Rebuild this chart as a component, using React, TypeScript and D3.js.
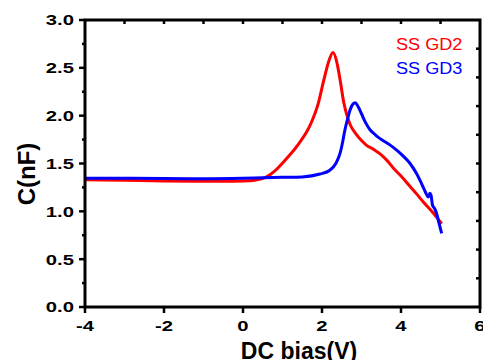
import React, { useEffect, useRef } from 'react';
import * as d3 from 'd3';

// SS GD2 (red)
const biasGD2 = [-4.0, -3.0, -2.0, -1.0, -0.5, 0.0, 0.3, 0.6, 0.8, 1.1, 1.4, 1.7, 1.9, 2.05, 2.18, 2.28, 2.38, 2.46, 2.55, 2.62, 2.72, 2.84, 3.0, 3.13, 3.3, 3.47, 3.65, 3.81, 4.0, 4.23, 4.4, 4.56, 4.8, 5.03];
const capGD2 = [1.33, 1.325, 1.318, 1.315, 1.315, 1.318, 1.325, 1.36, 1.42, 1.55, 1.70, 1.90, 2.12, 2.38, 2.58, 2.66, 2.55, 2.37, 2.14, 2.02, 1.90, 1.82, 1.74, 1.69, 1.65, 1.60, 1.53, 1.45, 1.37, 1.26, 1.18, 1.10, 0.99, 0.87];

// SS GD3 (blue)
const biasGD3 = [-4.0, -3.0, -2.0, -1.0, 0.0, 0.5, 1.0, 1.5, 1.95, 2.2, 2.35, 2.46, 2.52, 2.58, 2.65, 2.71, 2.78, 2.84, 2.92, 3.0, 3.1, 3.22, 3.35, 3.47, 3.7, 3.89, 4.05, 4.23, 4.4, 4.52, 4.62, 4.69, 4.73, 4.76, 4.8, 4.85, 4.9, 4.96, 5.03];
const capGD3 = [1.345, 1.345, 1.342, 1.34, 1.345, 1.35, 1.355, 1.36, 1.39, 1.43, 1.50, 1.61, 1.72, 1.85, 1.97, 2.06, 2.12, 2.135, 2.09, 2.02, 1.93, 1.85, 1.80, 1.76, 1.70, 1.64, 1.58, 1.50, 1.39, 1.29, 1.20, 1.15, 1.19, 1.17, 1.06, 1.03, 0.98, 0.88, 0.77];

const seriesNames = ['SS GD2', 'SS GD3'];
const seriesColors = ['#ff0000', '#0000ff'];

const xTicks = [-4, -2, 0, 2, 4, 6];
const xTopTicks = [-3, -2, -1, 0, 1, 2, 3, 4, 5];
const yTicks = [0, 0.5, 1.0, 1.5, 2.0, 2.5, 3.0];
const yMinorTicks = [0.25, 0.75, 1.25, 1.75, 2.25, 2.75];
const yRightTicks = [0.3, 0.6, 0.9, 1.2, 1.5, 1.8, 2.1, 2.4, 2.7];

const W = 483;
const H = 360;
const margin = { top: 20, right: 3, bottom: 53, left: 85 };

function App() {
  const ref = useRef<SVGSVGElement>(null);

  useEffect(() => {
    const svg = d3.select(ref.current);
    svg.selectAll('*').remove();

    const x = d3.scaleLinear().domain([-4, 6]).range([margin.left, W - margin.right]);
    const y = d3.scaleLinear().domain([0, 3]).range([H - margin.bottom, margin.top]);
    const font = 'Liberation Sans, Arial, sans-serif';

    const series = [
      { bias: biasGD2, cap: capGD2 },
      { bias: biasGD3, cap: capGD3 },
    ];

    const line = d3.line<[number, number]>()
      .x(d => x(d[0]))
      .y(d => y(d[1]))
      .curve(d3.curveMonotoneX);

    // curves
    series.forEach((s, i) => {
      const pts = s.bias.map((b, j) => [b, s.cap[j]] as [number, number]);
      svg.append('path')
        .datum(pts)
        .attr('d', line)
        .attr('fill', 'none')
        .attr('stroke', seriesColors[i])
        .attr('stroke-width', 3)
        .attr('stroke-linejoin', 'round');
    });

    // frame
    const g = svg.append('g').attr('stroke', '#000').attr('fill', 'none');
    g.append('rect')
      .attr('x', x(-4)).attr('y', y(3))
      .attr('width', x(6) - x(-4)).attr('height', y(0) - y(3))
      .attr('stroke-width', 3);

    // left ticks
    yTicks.forEach(t => {
      g.append('line').attr('x1', x(-4) - 6).attr('x2', x(-4)).attr('y1', y(t)).attr('y2', y(t)).attr('stroke-width', 2.5);
    });
    yMinorTicks.forEach(t => {
      g.append('line').attr('x1', x(-4) - 3).attr('x2', x(-4)).attr('y1', y(t)).attr('y2', y(t)).attr('stroke-width', 2.5);
    });
    // right ticks (inward)
    yRightTicks.forEach(t => {
      g.append('line').attr('x1', x(6) - 4).attr('x2', x(6)).attr('y1', y(t)).attr('y2', y(t)).attr('stroke-width', 2.5);
    });
    // bottom ticks
    xTicks.forEach(t => {
      g.append('line').attr('x1', x(t)).attr('x2', x(t)).attr('y1', y(0)).attr('y2', y(0) + 6).attr('stroke-width', 2.5);
    });
    // top ticks (inward)
    xTopTicks.forEach(t => {
      g.append('line').attr('x1', x(t)).attr('x2', x(t)).attr('y1', y(3)).attr('y2', y(3) + 4).attr('stroke-width', 2.5);
    });

    // tick labels
    yTicks.forEach(t => {
      svg.append('text')
        .attr('transform', `translate(${x(-4) - 11},${y(t)}) scale(1.35,1)`)
        .attr('dy', '0.36em')
        .attr('text-anchor', 'end')
        .attr('font-family', font)
        .attr('font-weight', 'bold')
        .attr('font-size', 15)
        .text(d3.format('.1f')(t));
    });
    xTicks.forEach(t => {
      svg.append('text')
        .attr('transform', `translate(${x(t)},${y(0) + 24}) scale(1.35,1)`)
        .attr('text-anchor', 'middle')
        .attr('font-family', font)
        .attr('font-weight', 'bold')
        .attr('font-size', 15)
        .text(String(t));
    });

    // axis titles
    svg.append('text')
      .attr('x', 299).attr('y', 359)
      .attr('text-anchor', 'middle')
      .attr('font-family', font)
      .attr('font-weight', 'bold')
      .attr('font-size', 23)
      .text('DC bias(V)');
    svg.append('text')
      .attr('transform', 'translate(35,174) rotate(-90)')
      .attr('text-anchor', 'middle')
      .attr('font-family', font)
      .attr('font-weight', 'bold')
      .attr('font-size', 24)
      .text('C(nF)');

    // legend
    seriesNames.forEach((n, i) => {
      svg.append('text')
        .attr('transform', `translate(396,${50 + i * 24.3}) scale(1.13,1)`)
        .attr('font-family', font)
        .attr('font-size', 16)
        .attr('fill', seriesColors[i])
        .text(n);
    });
  }, []);

  return (
    <svg ref={ref} width={W} height={H}
      style={{ position: 'absolute', left: 0, top: 0, background: '#fff' }} />
  );
}

export default App;
